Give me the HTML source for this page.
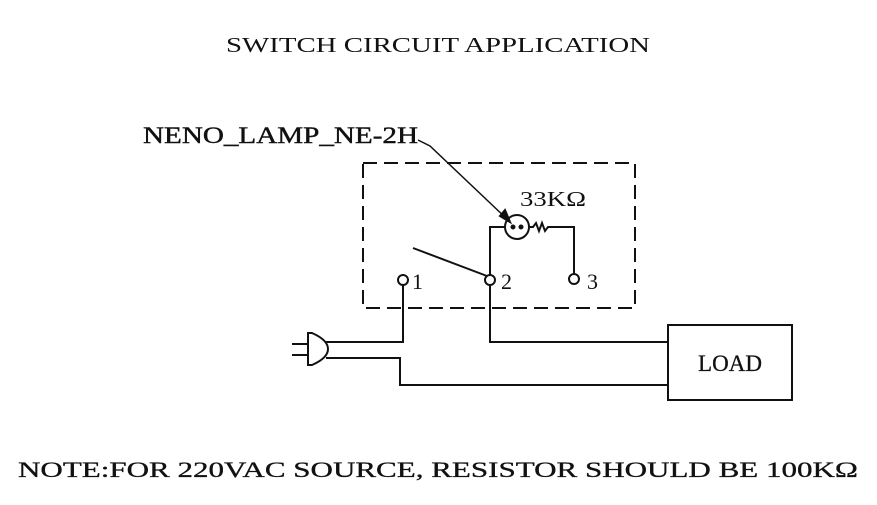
<!DOCTYPE html>
<html><head><style>
body{margin:0;background:#fff;}
svg text{font-family:"Liberation Serif",serif;fill:#111;}
</style></head><body>
<svg width="877" height="500" viewBox="0 0 877 500" xmlns="http://www.w3.org/2000/svg">
<g stroke="#111" fill="none" stroke-width="2">
<text x="226" y="52" font-size="21" stroke="none" textLength="424" lengthAdjust="spacingAndGlyphs">SWITCH CIRCUIT APPLICATION</text>
<text x="143" y="143" font-size="23" stroke="#111" stroke-width="0.4" textLength="275" lengthAdjust="spacingAndGlyphs">NENO_LAMP_NE-2H</text>
<polyline points="418,140 430,146 508,220" stroke-width="1.5"/>
<polygon points="510,222 500,216 505,210" fill="#111"/>
<rect x="363" y="163" width="272" height="145" stroke-dasharray="14,7"/>
<circle cx="517" cy="227" r="12"/>
<circle cx="513" cy="227" r="1.5" fill="#111"/>
<circle cx="521" cy="227" r="1.5" fill="#111"/>
<text x="520" y="206" font-size="21" stroke="none" textLength="66" lengthAdjust="spacingAndGlyphs">33KΩ</text>
<polyline points="490,275 490,227 505,227"/>
<polyline points="529,227 533,227 536,223 539,231 542,223 545,231 548,227 574,227 574,273"/>
<line x1="413" y1="248" x2="487" y2="276"/>
<circle cx="403" cy="280" r="5"/>
<circle cx="490" cy="280" r="5"/>
<circle cx="574" cy="279" r="5"/>
<text x="412" y="289" font-size="22" stroke="none">1</text>
<text x="501" y="289" font-size="22" stroke="none">2</text>
<text x="587" y="289" font-size="22" stroke="none">3</text>
<polyline points="403,285 403,342 326,342"/>
<polyline points="490,285 490,342 667,342"/>
<polyline points="326,358 400,358 400,385 667,385"/>
<path d="M308,333 L312,333 Q328,340 328,349 Q328,358 312,365 L308,365 Z"/>
<line x1="292" y1="344" x2="308" y2="344"/>
<line x1="292" y1="355" x2="308" y2="355"/>
<rect x="668" y="325" width="124" height="75"/>
<text x="730" y="371" text-anchor="middle" font-size="23" stroke="#111" stroke-width="0.3">LOAD</text>
<text x="438" y="477" text-anchor="middle" font-size="22" stroke="#111" stroke-width="0.3" textLength="840" lengthAdjust="spacingAndGlyphs">NOTE:FOR 220VAC SOURCE, RESISTOR SHOULD BE 100KΩ</text>
</g>
</svg>
</body></html>
